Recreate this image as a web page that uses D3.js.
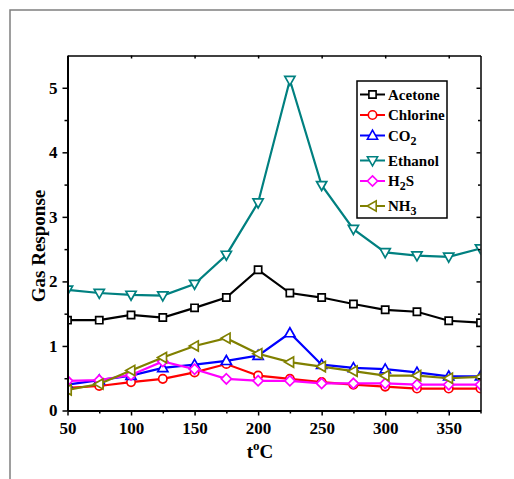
<!DOCTYPE html>
<html>
<head>
<meta charset="utf-8">
<script src="https://cdn.jsdelivr.net/npm/d3@7"></script>
<style>
body { margin: 0; background: #fff; }
svg text { font-family: "Liberation Serif", "Times New Roman", serif; font-weight: bold; }
</style>
</head>
<body>
<svg id="chart" width="514" height="479"></svg>
<script>
var temps = [50, 75, 100, 125, 150, 175, 200, 225, 250, 275, 300, 325, 350, 375];

var acetone  = [1.40, 1.40, 1.48, 1.44, 1.59, 1.75, 2.18, 1.82, 1.75, 1.65, 1.56, 1.53, 1.39, 1.36];
var chlorine = [0.35, 0.38, 0.44, 0.49, 0.59, 0.72, 0.54, 0.49, 0.44, 0.40, 0.37, 0.34, 0.34, 0.34];
var co2      = [0.40, 0.47, 0.54, 0.66, 0.71, 0.77, 0.85, 1.20, 0.71, 0.66, 0.64, 0.59, 0.53, 0.53];
var ethanol  = [1.87, 1.82, 1.79, 1.78, 1.96, 2.41, 3.22, 5.12, 3.49, 2.81, 2.45, 2.40, 2.38, 2.51];
var h2s      = [0.46, 0.47, 0.55, 0.76, 0.64, 0.49, 0.46, 0.46, 0.42, 0.42, 0.42, 0.40, 0.40, 0.40];
var nh3      = [0.32, 0.41, 0.62, 0.82, 1.00, 1.12, 0.88, 0.75, 0.68, 0.61, 0.54, 0.54, 0.50, 0.52];

var xTicks = [50, 100, 150, 200, 250, 300, 350];
var xMinorTicks = [75, 125, 175, 225, 275, 325, 375];
var yTicks = [0, 1, 2, 3, 4, 5];
var yMinorTicks = [0.5, 1.5, 2.5, 3.5, 4.5];

// name parts: [text, subscript, text after]
var series = [
    { name: ["Acetone", "", ""],  values: acetone,  color: "#000000", marker: "square" },
    { name: ["Chlorine", "", ""], values: chlorine, color: "#ff0000", marker: "circle" },
    { name: ["CO", "2", ""],      values: co2,      color: "#0000ff", marker: "up" },
    { name: ["Ethanol", "", ""],  values: ethanol,  color: "#008080", marker: "down" },
    { name: ["H", "2", "S"],      values: h2s,      color: "#ff00ff", marker: "diamond" },
    { name: ["NH", "3", ""],      values: nh3,      color: "#808000", marker: "left" }
];

var svg = d3.select("#chart");

// plot box (avoid "top", it is window.top)
var pLeft = 67.5, pRight = 480.5, pTop = 55.5, pBottom = 410.5;

var x = d3.scaleLinear().domain([50, 375]).range([pLeft, pRight]);
var y = d3.scaleLinear().domain([0, 5.5]).range([pBottom, pTop]);

// outer frame of the figure
svg.append("path")
    .attr("d", "M10,479V10H514")
    .attr("fill", "none")
    .attr("stroke", "#7f7f7f")
    .attr("stroke-width", 1.5);

function markerPath(type)
{
    var s = 4.3;
    switch(type)
    {
        case 'square':
            return "M-3.6,-3.6h7.2v7.2h-7.2z";
        case 'circle':
            return d3.symbol(d3.symbolCircle, 55)();
        case 'up':
            return "M0," + (-s - 1) + "L" + (s + 0.8) + "," + (s - 0.6) + "L" + (-s - 0.8) + "," + (s - 0.6) + "Z";
        case 'down':
            return "M0," + (s + 1) + "L" + (s + 0.8) + "," + (-s + 0.6) + "L" + (-s - 0.8) + "," + (-s + 0.6) + "Z";
        case 'left':
            return "M" + (-s - 1) + ",0L" + (s - 0.6) + "," + (-s - 0.8) + "L" + (s - 0.6) + "," + (s + 0.8) + "Z";
        case 'diamond':
            return "M0," + (-s - 0.8) + "L" + (s + 0.8) + ",0L0," + (s + 0.8) + "L" + (-s - 0.8) + ",0Z";
        default:
            return "";
    }
}

svg.append("clipPath").attr("id", "plotClip")
    .append("rect")
    .attr("x", pLeft).attr("y", pTop)
    .attr("width", pRight - pLeft).attr("height", pBottom - pTop);

var plot = svg.append("g").attr("clip-path", "url(#plotClip)");

var line = d3.line()
    .x(function(d) { return x(d[0]); })
    .y(function(d) { return y(d[1]); });

series.forEach(function(s)
{
    var pts = temps.map(function(t, i) { return [t, s.values[i]]; });
    var g = plot.append("g");
    g.append("path")
        .datum(pts)
        .attr("d", line)
        .attr("fill", "none")
        .attr("stroke", s.color)
        .attr("stroke-width", 2.2);
    g.selectAll("path.mk")
        .data(pts)
        .enter().append("path")
        .attr("class", "mk")
        .attr("d", markerPath(s.marker))
        .attr("transform", function(d) { return "translate(" + x(d[0]) + "," + y(d[1]) + ")"; })
        .attr("fill", "#fff")
        .attr("stroke", s.color)
        .attr("stroke-width", 1.7);
});

// axes
function styleAxis(g, width)
{
    g.select(".domain").attr("stroke", "#000").attr("stroke-width", width);
    g.selectAll(".tick line").attr("stroke", "#000").attr("stroke-width", 1.5);
    g.selectAll(".tick text").attr("fill", "#000").style("font-size", "17px");
}

svg.append("g")
    .attr("transform", "translate(0," + pTop + ")")
    .call(d3.axisTop(x).tickValues(xTicks).tickSizeInner(-3).tickSizeOuter(0).tickFormat(""))
    .call(styleAxis, 1.5);

svg.append("g")
    .attr("transform", "translate(" + pRight + ",0)")
    .call(d3.axisRight(y).tickValues(yTicks).tickSizeInner(-4).tickSizeOuter(0).tickFormat(""))
    .call(styleAxis, 1.5);
svg.append("g")
    .attr("transform", "translate(" + pRight + ",0)")
    .call(d3.axisRight(y).tickValues(yMinorTicks).tickSizeInner(-2.5).tickSizeOuter(0).tickFormat(""))
    .call(function(g) { g.select(".domain").remove(); })
    .call(styleAxis, 1.5);

svg.append("g")
    .attr("transform", "translate(0," + pBottom + ")")
    .call(d3.axisBottom(x).tickValues(xMinorTicks).tickSizeInner(3).tickSizeOuter(0).tickFormat(""))
    .call(function(g) { g.select(".domain").remove(); })
    .call(styleAxis, 2);
svg.append("g")
    .attr("transform", "translate(0," + pBottom + ")")
    .call(d3.axisBottom(x).tickValues(xTicks).tickSizeInner(5).tickSizeOuter(0).tickPadding(6))
    .call(styleAxis, 2);

svg.append("g")
    .attr("transform", "translate(" + pLeft + ",0)")
    .call(d3.axisLeft(y).tickValues(yMinorTicks).tickSizeInner(3).tickSizeOuter(0).tickFormat(""))
    .call(function(g) { g.select(".domain").remove(); })
    .call(styleAxis, 2);
svg.append("g")
    .attr("transform", "translate(" + pLeft + ",0)")
    .call(d3.axisLeft(y).tickValues(yTicks).tickSizeInner(5).tickSizeOuter(0).tickPadding(5).tickFormat(d3.format("d")))
    .call(styleAxis, 2);

// axis titles
svg.append("text")
    .attr("transform", "translate(44.5,246) rotate(-90)")
    .attr("text-anchor", "middle")
    .style("font-size", "19px")
    .text("Gas Response");

var xt = svg.append("text")
    .attr("x", (pLeft + pRight) / 2 - 14)
    .attr("y", 458)
    .attr("text-anchor", "middle")
    .style("font-size", "19px");
xt.append("tspan").text("t");
xt.append("tspan").attr("dy", -8).style("font-size", "13px").text("o");
xt.append("tspan").attr("dy", 8).text("C");

// legend
var legend = svg.append("g");
legend.append("rect")
    .attr("x", 357).attr("y", 81)
    .attr("width", 90).attr("height", 137)
    .attr("fill", "#fff")
    .attr("stroke", "#000")
    .attr("stroke-width", 1.5);

var ly = 94.5;
series.forEach(function(s, i)
{
    if (i > 0)
        ly += series[i - 1].name[1] ? 25 : 20.5;
    var row = legend.append("g").attr("transform", "translate(0," + ly + ")");
    row.append("line")
        .attr("x1", 360).attr("x2", 385)
        .attr("stroke", s.color).attr("stroke-width", 2);
    row.append("path")
        .attr("d", markerPath(s.marker))
        .attr("transform", "translate(372.5,0)")
        .attr("fill", "#fff")
        .attr("stroke", s.color)
        .attr("stroke-width", 1.6);
    var t = row.append("text")
        .attr("x", 388).attr("y", 5)
        .style("font-size", "15px");
    t.append("tspan").text(s.name[0]);
    if (s.name[1])
    {
        t.append("tspan").attr("dy", 4).style("font-size", "12px").text(s.name[1]);
        if (s.name[2])
            t.append("tspan").attr("dy", -4).text(s.name[2]);
    }
});
</script>
</body>
</html>
